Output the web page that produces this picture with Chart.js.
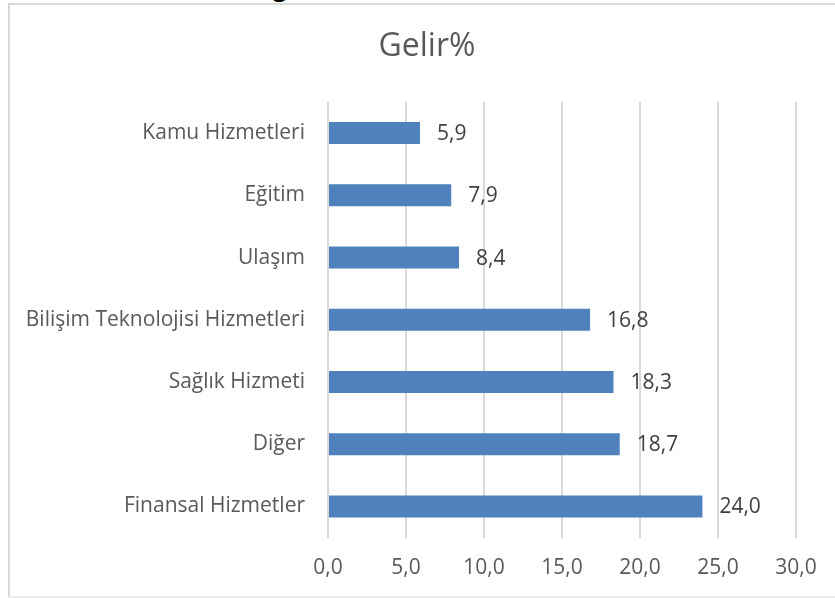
<!DOCTYPE html>
<html>
<head>
<meta charset="utf-8">
<script src="https://cdn.jsdelivr.net/npm/chart.js@4/dist/chart.umd.min.js"></script>
<style>
  html, body { margin: 0; padding: 0; background: #ffffff; }
  body { width: 835px; height: 598px; position: relative; overflow: hidden; }
  #frame { position: absolute; left: 8px; top: 3px; right: -10px; bottom: 0px;
           border-left: 2px solid #d9d9d9; border-top: 2px solid #d9d9d9; border-bottom: 2px solid #ececec;
           pointer-events: none; }
  #frag { position: absolute; left: 273px; top: -25px; font: bold 24px "Open Sans", sans-serif;
          line-height: 24px; color: #000; }
  #wrap { position: absolute; left: 0; top: 0; width: 835px; height: 598px; }
</style>
</head>
<body>
<div id="frag">g</div>
<div id="wrap"><canvas id="c"></canvas></div>
<div id="frame"></div>
<script>
const categories = ['Kamu Hizmetleri', 'Eğitim', 'Ulaşım', 'Bilişim Teknolojisi Hizmetleri', 'Sağlık Hizmeti', 'Diğer', 'Finansal Hizmetler'];
const values = [5.9, 7.9, 8.4, 16.8, 18.3, 18.7, 24.0];
const xTicks = [0, 5, 10, 15, 20, 25, 30];
const titleText = 'Gelir%';

const fmt = v => Number(v).toFixed(1).replace('.', ',');
const FONT = '"Open Sans", sans-serif';

const valueLabels = {
  id: 'valueLabels',
  afterDatasetsDraw(chart) {
    const ctx = chart.ctx;
    const meta = chart.getDatasetMeta(0);
    ctx.save();
    ctx.font = '21px ' + FONT;
    ctx.fillStyle = '#404040';
    ctx.textAlign = 'left';
    ctx.textBaseline = 'middle';
    meta.data.forEach((bar, i) => {
      ctx.fillText(fmt(values[i]), bar.x + 17, bar.y + 1);
    });
    ctx.restore();
  }
};

const chartTitle = {
  id: 'chartTitle',
  afterDraw(chart) {
    const ctx = chart.ctx;
    ctx.save();
    ctx.font = '32px ' + FONT;
    ctx.fillStyle = '#595959';
    ctx.textAlign = 'center';
    ctx.textBaseline = 'middle';
    ctx.fillText(titleText, 427, 47);
    ctx.restore();
  }
};

new Chart(document.getElementById('c'), {
  type: 'bar',
  data: {
    labels: categories,
    datasets: [{
      data: values,
      backgroundColor: '#4f81bd',
      borderWidth: 0,
      categoryPercentage: 1,
      barPercentage: 0.354
    }]
  },
  options: {
    indexAxis: 'y',
    responsive: true,
    maintainAspectRatio: false,
    animation: false,
    layout: { padding: { top: 102, right: 39, bottom: 0, left: 0 } },
    plugins: {
      legend: { display: false },
      tooltip: { enabled: false },
      title: { display: false }
    },
    scales: {
      x: {
        min: 0, max: 30,
        afterBuildTicks(scale) { scale.ticks = xTicks.map(v => ({ value: v })); },
        afterFit(scale) { scale.height = 60.5; },
        grid: { color: '#d9d9d9', lineWidth: 2, drawTicks: false },
        border: { display: false },
        ticks: {
          padding: 18,
          color: '#595959',
          font: { family: FONT, size: 21 },
          callback: v => fmt(v),
          maxRotation: 0
        }
      },
      y: {
        afterFit(scale) { scale.width = 328; },
        grid: { display: false, drawTicks: false },
        border: { display: false },
        ticks: {
          padding: 23,
          color: '#595959',
          font: { family: FONT, size: 21 }
        }
      }
    }
  },
  plugins: [valueLabels, chartTitle]
});
</script>
</body>
</html>
